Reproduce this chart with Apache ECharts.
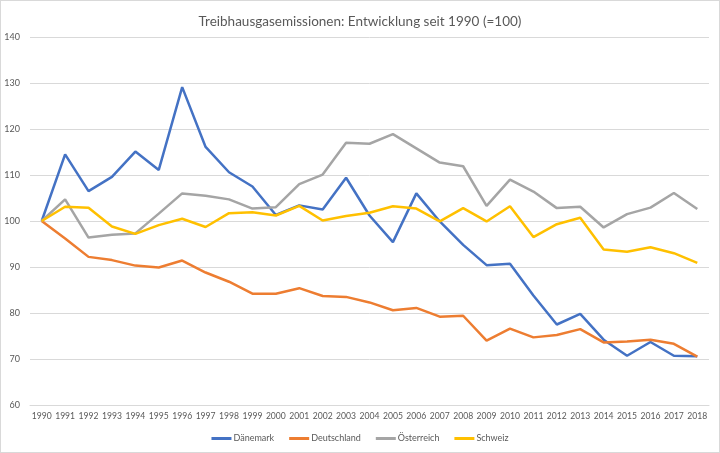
<!DOCTYPE html>
<html>
<head>
<meta charset="utf-8">
<script src="https://cdn.jsdelivr.net/npm/echarts@6/dist/echarts.min.js"></script>
<style>
  html, body { margin: 0; padding: 0; background: #fff; }
  #chart { width: 718px; height: 451px; border: 1px solid #d9d9d9; }
</style>
</head>
<body>
<div id="chart"></div>
<script>
var years = ['1990','1991','1992','1993','1994','1995','1996','1997','1998','1999',
    '2000','2001','2002','2003','2004','2005','2006','2007','2008','2009',
    '2010','2011','2012','2013','2014','2015','2016','2017','2018'];

var daenemark = [100, 114.5, 106.5, 109.6, 115.1, 111.1, 129.1, 116.1, 110.6, 107.5,
    101.3, 103.4, 102.5, 109.4, 101.2, 95.4, 106, 99.9, 94.8, 90.4,
    90.7, 83.8, 77.5, 79.8, 74.2, 70.7, 73.7, 70.7, 70.6];
var deutschland = [100, 96.2, 92.2, 91.5, 90.3, 89.9, 91.4, 88.8, 86.8, 84.2,
    84.2, 85.4, 83.7, 83.5, 82.3, 80.6, 81.1, 79.2, 79.4, 74,
    76.6, 74.7, 75.2, 76.5, 73.6, 73.8, 74.2, 73.3, 70.5];
var oesterreich = [100, 104.7, 96.4, 97, 97.3, 101.6, 106, 105.5, 104.7, 102.7,
    103, 108, 110.1, 117, 116.8, 118.9, 115.8, 112.7, 111.9, 103.3,
    109, 106.4, 102.8, 103.1, 98.6, 101.5, 102.9, 106.1, 102.6];
var schweiz = [100, 103.1, 102.9, 98.8, 97.2, 99.1, 100.5, 98.7, 101.7, 101.9,
    101.2, 103.3, 100.1, 101.1, 101.8, 103.2, 102.7, 99.9, 102.8, 99.9,
    103.2, 96.5, 99.3, 100.7, 93.8, 93.3, 94.3, 93, 90.9];

var seriesNames = ['Dänemark', 'Deutschland', 'Österreich', 'Schweiz'];
var colors = ['#4472C4', '#ED7D31', '#A5A5A5', '#FFC000'];
var yTicks = { min: 60, max: 140, step: 10 };

var font = 'Lato, "Open Sans", sans-serif';

var myChart = echarts.init(document.getElementById('chart'));

function line(name, data, i) {
    return {
        name: name,
        type: 'line',
        data: data,
        symbol: 'none',
        lineStyle: { width: 2.5, color: colors[i] },
        itemStyle: { color: colors[i] }
    };
}

var option = {
    animation: false,
    backgroundColor: '#fff',
    title: {
        text: 'Treibhausgasemissionen: Entwicklung seit 1990 (=100)',
        left: 'center',
        top: 9,
        textStyle: { color: '#595959', fontSize: 13.5, fontWeight: 'normal', fontFamily: font }
    },
    legend: {
        data: seriesNames,
        bottom: 4,
        left: 'center',
        itemWidth: 20,
        itemHeight: 3,
        itemGap: 15,
        icon: 'rect',
        textStyle: { color: '#595959', fontSize: 9, fontFamily: font, padding: [0, 0, 0, -3] }
    },
    grid: {
        left: 29,
        right: 10,
        top: 36,
        bottom: 47
    },
    xAxis: {
        type: 'category',
        data: years,
        boundaryGap: true,
        axisLine: { lineStyle: { color: '#d9d9d9' } },
        axisTick: { show: false },
        axisLabel: { color: '#595959', fontSize: 8.6, fontFamily: font, margin: 7, interval: 0 }
    },
    yAxis: {
        type: 'value',
        min: yTicks.min,
        max: yTicks.max,
        interval: yTicks.step,
        axisLine: { show: false },
        axisTick: { show: false },
        axisLabel: { color: '#595959', fontSize: 9, fontFamily: font, margin: 10 },
        splitLine: { lineStyle: { color: '#d9d9d9' } }
    },
    series: [
        line(seriesNames[0], daenemark, 0),
        line(seriesNames[1], deutschland, 1),
        line(seriesNames[2], oesterreich, 2),
        line(seriesNames[3], schweiz, 3)
    ]
};

myChart.setOption(option);
</script>
</body>
</html>
